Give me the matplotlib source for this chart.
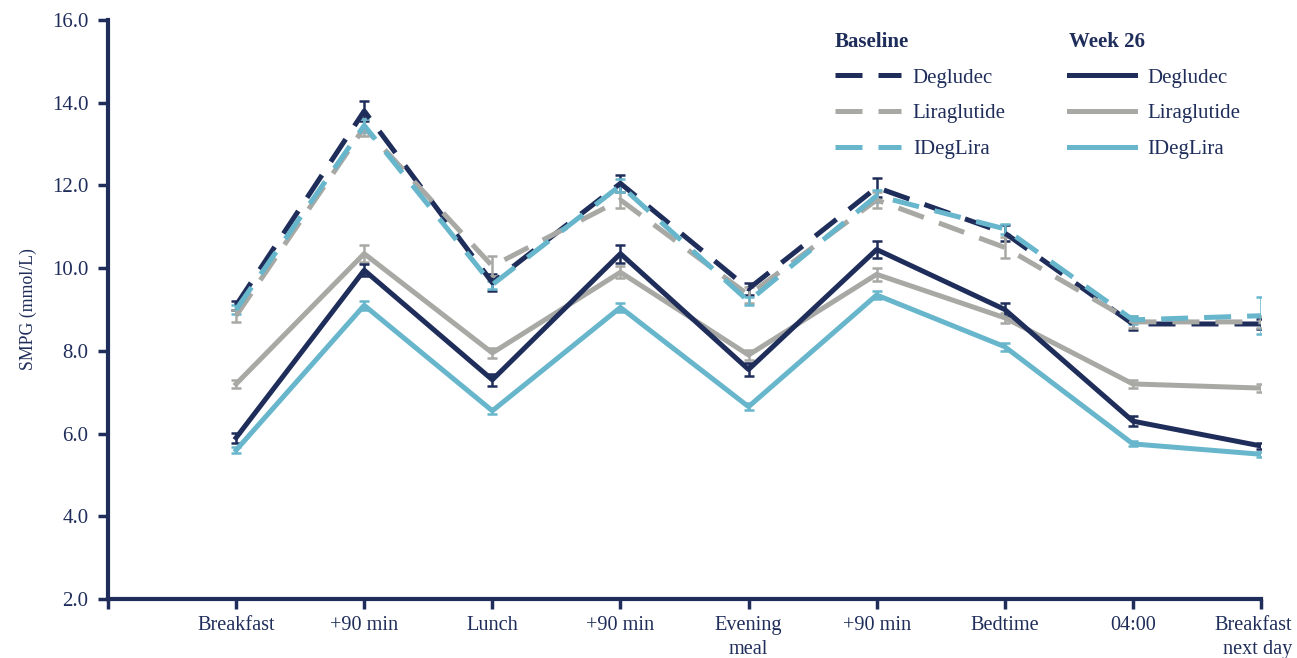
import numpy as np
import matplotlib.pyplot as plt
import matplotlib.transforms as mtransforms
from matplotlib.lines import Line2D

plt.rcParams['font.family'] = ['Liberation Serif', 'DejaVu Serif']

# Time points of the 9-point SMPG profile
timepoints = ["Breakfast", "+90 min", "Lunch", "+90 min", "Evening\nmeal",
              "+90 min", "Bedtime", "04:00", "Breakfast\nnext day"]

# Baseline means and standard errors (mmol/L)
deg_base = [9.1, 13.8, 9.65, 12.05, 9.5, 11.95, 10.85, 8.65, 8.65]
lira_base = [8.85, 13.4, 10.05, 11.65, 9.35, 11.65, 10.5, 8.7, 8.7]
ideg_base = [9.0, 13.45, 9.6, 12.0, 9.2, 11.75, 10.95, 8.75, 8.85]
deg_base_err = [0.1, 0.25, 0.2, 0.2, 0.15, 0.22, 0.2, 0.15, 0.12]
lira_base_err = [0.15, 0.2, 0.25, 0.2, 0.2, 0.2, 0.25, 0.15, 0.15]
ideg_base_err = [0.1, 0.15, 0.1, 0.15, 0.1, 0.15, 0.12, 0.1, 0.45]

# Week 26 means and standard errors (mmol/L)
deg_w26 = [5.9, 9.95, 7.3, 10.35, 7.55, 10.45, 9.0, 6.3, 5.7]
lira_w26 = [7.2, 10.35, 7.95, 9.9, 7.9, 9.85, 8.8, 7.2, 7.1]
ideg_w26 = [5.6, 9.1, 6.55, 9.05, 6.65, 9.35, 8.1, 5.75, 5.5]
deg_w26_err = [0.12, 0.15, 0.15, 0.22, 0.15, 0.2, 0.15, 0.12, 0.08]
lira_w26_err = [0.1, 0.2, 0.12, 0.15, 0.12, 0.15, 0.12, 0.1, 0.1]
ideg_w26_err = [0.08, 0.1, 0.08, 0.1, 0.08, 0.1, 0.1, 0.06, 0.06]

navy = '#1f2d5a'
grey = '#a8a8a4'
blue = '#67b6cc'
dash = (5.4, 3.2)

x = np.arange(1, len(timepoints) + 1)

fig = plt.figure(figsize=(12.97, 6.58), dpi=100)
ax = fig.add_axes([108 / 1297, 59 / 658, (1261 - 108) / 1297, (599 - 20) / 658])

series = [
    (deg_base, deg_base_err, navy, True),
    (lira_base, lira_base_err, grey, True),
    (ideg_base, ideg_base_err, blue, True),
    (lira_w26, lira_w26_err, grey, False),
    (deg_w26, deg_w26_err, navy, False),
    (ideg_w26, ideg_w26_err, blue, False),
]
for vals, err, col, dashed in series:
    ax.errorbar(x, vals, yerr=err, fmt='none', ecolor=col, elinewidth=1.8,
                capsize=3.5, capthick=1.8, zorder=2)
    line, = ax.plot(x, vals, color=col, lw=3.6, zorder=3)
    if dashed:
        line.set_dashes(dash)

ax.set_xlim(0, 9)
ax.set_ylim(2, 16)
ax.set_xticks(np.arange(0, 10))
ax.set_xticklabels([""] + timepoints, linespacing=1.35)
ax.set_yticks(np.arange(2, 17, 2))
ax.set_yticklabels([f"{v:.1f}" for v in np.arange(2, 17, 2)])
ax.set_ylabel("SMPG (mmol/L)", fontsize=12.8, color=navy, labelpad=11)

for side in ('top', 'right'):
    ax.spines[side].set_visible(False)
for side in ('left', 'bottom'):
    ax.spines[side].set_color(navy)
    ax.spines[side].set_linewidth(3)
ax.tick_params(axis='both', colors=navy, labelcolor=navy, labelsize=15,
               width=2.5, length=7, direction='out')
ax.tick_params(axis='x', labelsize=14.6, pad=5)
ax.tick_params(axis='y', pad=7)

# keep the last two-line label inside the figure, right-aligned lines
last = ax.get_xticklabels()[-1]
last.set_multialignment('right')
last.set_transform(last.get_transform() +
                   mtransforms.ScaledTranslation(-8 / 100, 0, fig.dpi_scale_trans))

# Two legend blocks: baseline (dashed) and week 26 (solid)
names = ["Degludec", "Liraglutide", "IDegLira"]
cols = [navy, grey, blue]
base_handles = [Line2D([], [], color=c, lw=3.6, dashes=dash) for c in cols]
w26_handles = [Line2D([], [], color=c, lw=3.6) for c in cols]

leg_kw = dict(frameon=False, fontsize=15, handlelength=3.2, handletextpad=0.55,
              labelspacing=0.78, alignment='left', labelcolor=navy,
              title_fontproperties={'weight': 'bold', 'size': 15})
leg1 = ax.legend(base_handles, names, title="Baseline",
                 loc='upper left', bbox_to_anchor=(0.614, 1.012), **leg_kw)
leg1.get_title().set_color(navy)
ax.add_artist(leg1)
leg2 = ax.legend(w26_handles, names, title="Week 26",
                 loc='upper left', bbox_to_anchor=(0.817, 1.012), **leg_kw)
leg2.get_title().set_color(navy)

fig.savefig("out.png", dpi=100)
